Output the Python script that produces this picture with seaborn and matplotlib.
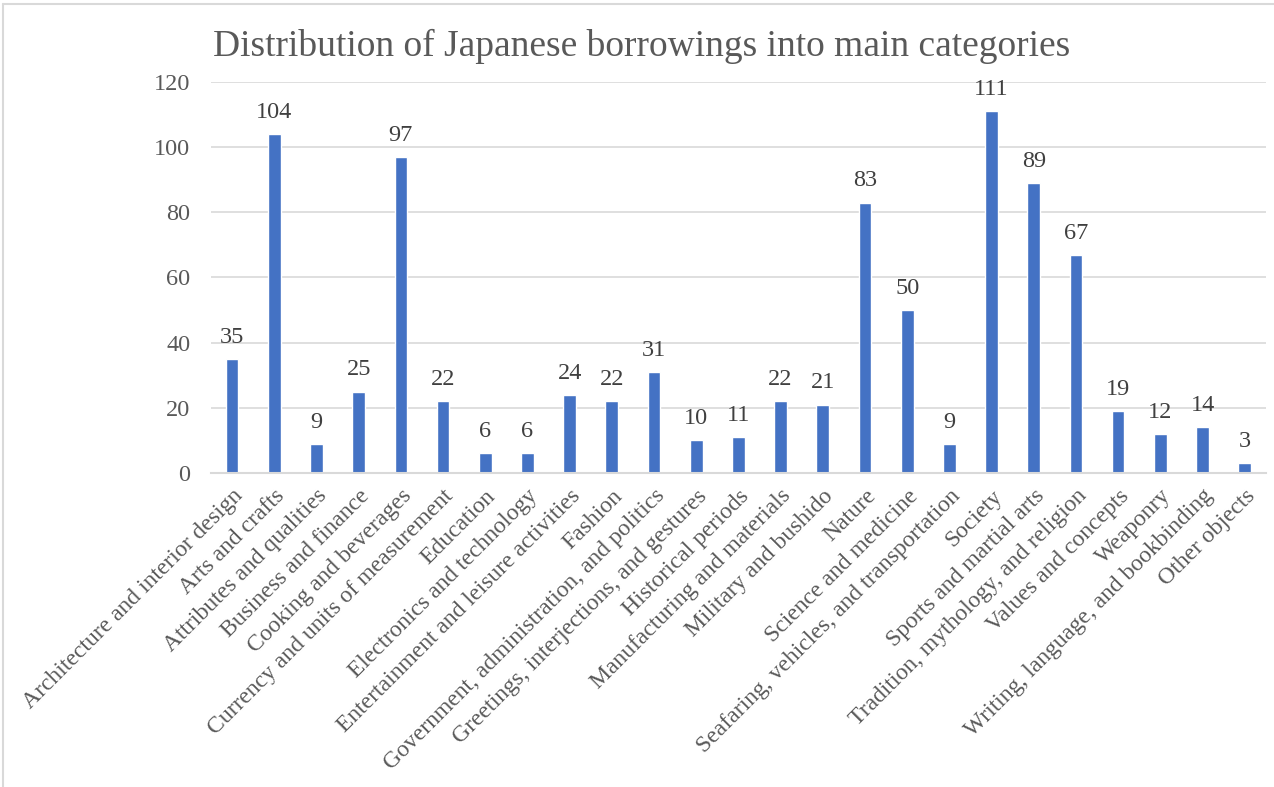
import matplotlib
matplotlib.use("Agg")
import matplotlib.pyplot as plt
import seaborn as sns
import pandas as pd
from matplotlib.lines import Line2D

categories = [
    "Architecture and interior design",
    "Arts and crafts",
    "Attributes and qualities",
    "Business and finance",
    "Cooking and beverages",
    "Currency and units of measurement",
    "Education",
    "Electronics and technology",
    "Entertainment and leisure activities",
    "Fashion",
    "Government, administration, and politics",
    "Greetings, interjections, and gestures",
    "Historical periods",
    "Manufacturing and materials",
    "Military and bushido",
    "Nature",
    "Science and medicine",
    "Seafaring, vehicles, and transportation",
    "Society",
    "Sports and martial arts",
    "Tradition, mythology, and religion",
    "Values and concepts",
    "Weaponry",
    "Writing, language, and bookbinding",
    "Other objects",
]
counts = [35, 104, 9, 25, 97, 22, 6, 6, 24, 22, 31, 10, 11, 22, 21,
          83, 50, 9, 111, 89, 67, 19, 12, 14, 3]
y_ticks = [0, 20, 40, 60, 80, 100, 120]

title = "Distribution of Japanese borrowings into main categories"

sns.set_theme(style="white")
plt.rcParams["font.family"] = ["Liberation Serif", "DejaVu Serif"]

text_color = "#595959"
bar_color = "#4472C4"
grid_color = "#d9d9d9"

df = pd.DataFrame({"category": categories, "count": counts})

fig = plt.figure(figsize=(12.74, 7.87), dpi=100)
ax = fig.add_axes([0.1656, 0.399, 0.828, 0.4968])

sns.barplot(data=df, x="category", y="count", color=bar_color,
            width=0.30, saturation=1, ax=ax, zorder=3)

ax.set_ylim(0, 120)
ax.set_yticks(y_ticks)
ax.set_yticklabels([str(v) for v in y_ticks], fontsize=17.5, color=text_color)
ax.yaxis.grid(True, color=grid_color, linewidth=1.2, zorder=0)
ax.set_axisbelow(True)
ax.tick_params(axis="y", length=0, pad=15)
ax.tick_params(axis="x", length=0, pad=9)

ax.set_xticks(range(len(categories)))
ax.set_xticklabels(categories, rotation=45, ha="right",
                   rotation_mode="anchor", fontsize=17, color=text_color)
ax.set_xlim(-0.5, len(categories) - 0.5)

for s in ["top", "right", "left"]:
    ax.spines[s].set_visible(False)
ax.spines["bottom"].set_color(grid_color)
ax.spines["bottom"].set_linewidth(1.5)
ax.spines["bottom"].set_zorder(4)

ax.set_xlabel("")
ax.set_ylabel("")

for container in ax.containers:
    ax.bar_label(container, labels=[str(v) for v in counts],
                 padding=8, fontsize=17.5, color="#404040")

fig.text(0.1672, 0.9405, title, fontsize=27, color=text_color,
         ha="left", va="center")

# thin chart-area frame
fig.add_artist(Line2D([0.0025, 0.0025], [0.0, 0.995], transform=fig.transFigure,
                      color=grid_color, linewidth=1.5))
fig.add_artist(Line2D([0.0025, 1.0], [0.995, 0.995], transform=fig.transFigure,
                      color=grid_color, linewidth=1.5))

fig.savefig("out.png", dpi=100, facecolor="white")
